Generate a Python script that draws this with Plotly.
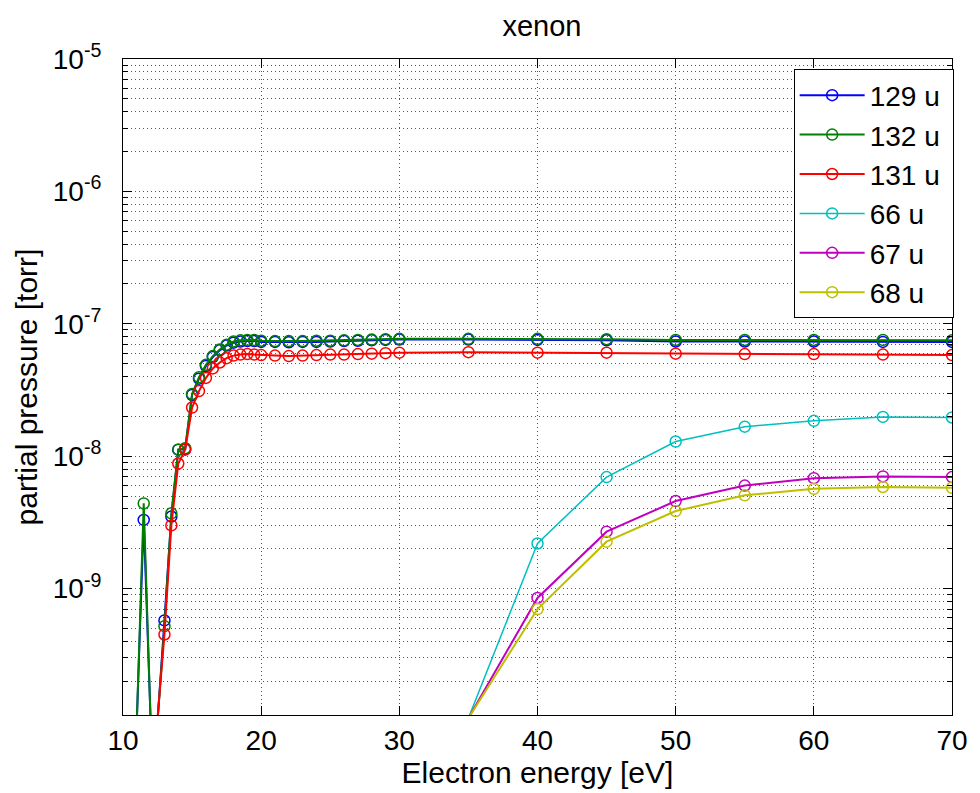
import plotly.graph_objects as go

# Electron energy grid [eV]
energy = [10, 10.5, 11, 11.5, 12, 12.5, 13, 13.5, 14, 14.5, 15, 15.5, 16, 16.5,
          17, 17.5, 18, 18.5, 19, 19.5, 20, 21, 22, 23, 24, 25, 26, 27, 28, 29,
          30, 35, 40, 45, 50, 55, 60, 65, 70]

# Partial pressures [torr] of the xenon parent-ion masses
p129 = [9e-11, 9e-11, 1.0e-10, 3.3e-9, 1.0e-10, 1.0e-10, 5.75e-10, 3.5e-9, 1.12e-8, 1.13e-8,
        2.9e-8, 3.85e-8, 4.8e-8, 5.6e-8, 6.3e-8, 6.85e-8, 7.2e-8, 7.35e-8, 7.4e-8, 7.4e-8,
        7.3e-8, 7.3e-8, 7.25e-8, 7.3e-8, 7.3e-8, 7.35e-8, 7.4e-8, 7.45e-8, 7.5e-8, 7.55e-8,
        7.6e-8, 7.6e-8, 7.55e-8, 7.5e-8, 7.35e-8, 7.35e-8, 7.35e-8, 7.3e-8, 7.3e-8]
p132 = [9e-11, 9e-11, 1.0e-10, 4.4e-9, 1.0e-10, 1.0e-10, 5.2e-10, 3.7e-9, 1.12e-8, 1.15e-8,
        2.95e-8, 3.95e-8, 4.9e-8, 5.7e-8, 6.4e-8, 6.95e-8, 7.35e-8, 7.5e-8, 7.55e-8, 7.55e-8,
        7.45e-8, 7.4e-8, 7.4e-8, 7.4e-8, 7.45e-8, 7.45e-8, 7.5e-8, 7.55e-8, 7.6e-8, 7.65e-8,
        7.7e-8, 7.7e-8, 7.7e-8, 7.65e-8, 7.55e-8, 7.55e-8, 7.55e-8, 7.55e-8, 7.5e-8]
p131 = [8e-11, 8e-11, 8e-11, 8e-11, 8e-11, 1.05e-10, 4.5e-10, 3.0e-9, 8.8e-9, 1.12e-8,
        2.33e-8, 3.1e-8, 3.9e-8, 4.6e-8, 5.1e-8, 5.5e-8, 5.75e-8, 5.85e-8, 5.9e-8, 5.85e-8,
        5.8e-8, 5.75e-8, 5.7e-8, 5.75e-8, 5.8e-8, 5.85e-8, 5.85e-8, 5.9e-8, 5.95e-8, 6.0e-8,
        6.05e-8, 6.1e-8, 6.05e-8, 6.05e-8, 5.95e-8, 5.9e-8, 5.9e-8, 5.85e-8, 5.8e-8]

# Doubly charged xenon (m/z 66-68), recorded from 35 eV upward
energy_dbl = [35, 40, 45, 50, 55, 60, 65, 70]
p66 = [1.05e-10, 2.19e-9, 6.95e-9, 1.29e-8, 1.67e-8, 1.85e-8, 1.98e-8, 1.96e-8]
p67 = [1.05e-10, 8.5e-10, 2.69e-9, 4.58e-9, 6.0e-9, 6.82e-9, 7.03e-9, 6.95e-9]
p68 = [1.05e-10, 7.0e-10, 2.26e-9, 3.85e-9, 5.06e-9, 5.67e-9, 5.85e-9, 5.77e-9]

y_ticks = [1e-9, 1e-8, 1e-7, 1e-6, 1e-5]
y_tick_text = ["10<sup>-9</sup>", "10<sup>-8</sup>", "10<sup>-7</sup>",
               "10<sup>-6</sup>", "10<sup>-5</sup>"]
x_ticks = [10, 20, 30, 40, 50, 60, 70]

Y_LOG_RANGE = [-9.955, -5]
Y_MIN = 10 ** Y_LOG_RANGE[0]

FONT = "Liberation Sans, Arial, Helvetica, sans-serif"
MARKER_SIZE = 11

series = [
    ("129 u", energy, p129, "#0000FF", 2),
    ("132 u", energy, p132, "#008000", 2),
    ("131 u", energy, p131, "#FF0000", 2),
    ("66 u", energy_dbl, p66, "#00BFBF", 1.5),
    ("67 u", energy_dbl, p67, "#BF00BF", 2),
    ("68 u", energy_dbl, p68, "#BFBF00", 2),
]

fig = go.Figure()
for name, xs, ys, color, lw in series:
    # points below the lower axis limit keep their line but show no marker
    in_range = [i for i, v in enumerate(ys) if v >= Y_MIN]
    fig.add_trace(go.Scatter(
        x=xs, y=ys, name=name + "\u00a0", mode="lines+markers",
        line=dict(color=color, width=lw),
        marker=dict(symbol="circle-open", size=MARKER_SIZE, color=color,
                    line=dict(width=1.5, color=color)),
        selectedpoints=in_range,
        selected=dict(marker=dict(opacity=1)),
        unselected=dict(marker=dict(opacity=0)),
    ))

grid_dash = "1px,3px"
grid_color = "#555555"

fig.update_layout(
    width=980, height=793,
    margin=dict(l=123, r=19, t=59, b=74),
    paper_bgcolor="white", plot_bgcolor="white",
    font=dict(family=FONT, size=28, color="black"),
    title=dict(text="xenon", x=0.553, xanchor="center", y=0.968, yanchor="middle",
               font=dict(size=29)),
    showlegend=True,
    legend=dict(x=1.002, xanchor="right", y=0.984, yanchor="top",
                bordercolor="black", borderwidth=1, bgcolor="white",
                font=dict(size=28), itemwidth=65, tracegroupgap=0),
    xaxis=dict(
        title=dict(text="Electron energy [eV]", standoff=4, font=dict(size=30)),
        range=[10, 70], tickvals=x_ticks, ticks="inside", ticklen=9,
        tickcolor="black", showline=True, linecolor="black", linewidth=1,
        mirror="ticks", showgrid=True, gridcolor=grid_color, griddash=grid_dash,
        gridwidth=1, zeroline=False, tickfont=dict(size=28),
    ),
    yaxis=dict(
        title=dict(text="partial pressure [torr]", standoff=6, font=dict(size=30)),
        type="log", range=Y_LOG_RANGE, tickvals=y_ticks, ticktext=y_tick_text,
        ticks="inside", ticklen=9, tickcolor="black", showline=True,
        linecolor="black", linewidth=1, mirror="ticks", showgrid=True,
        gridcolor=grid_color, griddash=grid_dash, gridwidth=1, zeroline=False,
        tickfont=dict(size=28), ticklabelstandoff=15,
        minor=dict(dtick="D1", ticks="inside", ticklen=5, tickcolor="black",
                   showgrid=True, gridcolor=grid_color, griddash=grid_dash,
                   gridwidth=1),
    ),
)

fig.write_html("out.html")
